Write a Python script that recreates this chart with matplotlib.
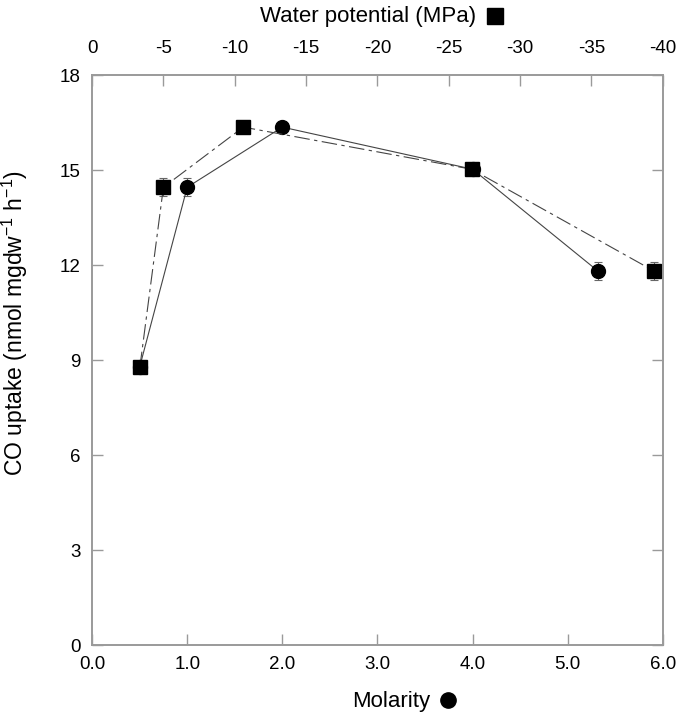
import matplotlib
matplotlib.use("Agg")
import matplotlib.pyplot as plt

plt.rcParams["font.family"] = ["Liberation Sans", "DejaVu Sans"]
plt.rcParams["mathtext.default"] = "regular"

# data
molarity = [0.5, 1.0, 2.0, 4.0, 5.32]
uptake_m = [8.78, 14.46, 16.36, 15.03, 11.81]
err_m = [0.08, 0.28, 0.08, 0.1, 0.28]

water_pot = [-3.35, -5.0, -10.6, -26.6, -39.4]
uptake_w = [8.78, 14.46, 16.36, 15.03, 11.81]
err_w = [0.08, 0.28, 0.08, 0.1, 0.28]

spine_col = '#9a9a9a'
line_col = '#444444'

fig = plt.figure(figsize=(6.77, 7.16), dpi=100)
ax1 = fig.add_axes([0.136, 0.099, 0.843, 0.796])

ax1.errorbar(molarity, uptake_m, yerr=err_m, color=line_col, lw=0.8,
             marker='o', ms=10, mfc='black', mec='black',
             ecolor='#666666', elinewidth=0.8, capsize=3, capthick=0.8)
ax1.set_xlim(0, 6)
ax1.set_ylim(0, 18)
ax1.set_xticks([0, 1, 2, 3, 4, 5, 6])
ax1.set_xticklabels(['0.0', '1.0', '2.0', '3.0', '4.0', '5.0', '6.0'])
ax1.set_yticks([0, 3, 6, 9, 12, 15, 18])
ax1.set_xlabel('Molarity', fontsize=16)
ax1.set_ylabel('CO uptake (nmol mgdw$^{-1}$ h$^{-1}$)', fontsize=16.5)
ax1.xaxis.set_label_coords(0.524, -0.08)
ax1.yaxis.set_label_coords(-0.108, 0.565)

ax2 = ax1.twiny()
ax2.errorbar(water_pot, uptake_w, yerr=err_w, color=line_col, lw=0.8,
             linestyle=(0, (14, 4, 3, 4)),
             marker='s', ms=10, mfc='black', mec='black',
             ecolor='#666666', elinewidth=0.8, capsize=3, capthick=0.8)
ax2.set_xlim(0, -40)
ax2.set_xticks([0, -5, -10, -15, -20, -25, -30, -35, -40])
ax2.set_xticklabels(['0', '-5', '-10', '-15', '-20', '-25', '-30', '-35', '-40'])
ax2.set_xlabel('Water potential (MPa)', fontsize=16)
ax2.xaxis.set_label_coords(0.483, 1.093)

for ax in (ax1, ax2):
    for s in ax.spines.values():
        s.set_color(spine_col)
        s.set_linewidth(1.2)
    ax.tick_params(direction='in', length=8, width=1, color=spine_col,
                   labelsize=13.5, pad=8)
ax1.tick_params(axis='y', right=True)
ax2.tick_params(axis='x', pad=13)

# symbol after each axis title
fig.canvas.draw()
r = fig.canvas.get_renderer()
inv = fig.transFigure.inverted()
for lab, sym, gap in ((ax1.xaxis.label, 'o', 18), (ax2.xaxis.label, 's', 19)):
    bb = lab.get_window_extent(r)
    x0, y0 = inv.transform((bb.x1 + gap, (bb.y0 + bb.y1) / 2 + 1))
    fig.lines.append(plt.Line2D([x0], [y0], marker=sym, ms=11, color='black',
                                transform=fig.transFigure))

fig.savefig('out.png', dpi=100)
